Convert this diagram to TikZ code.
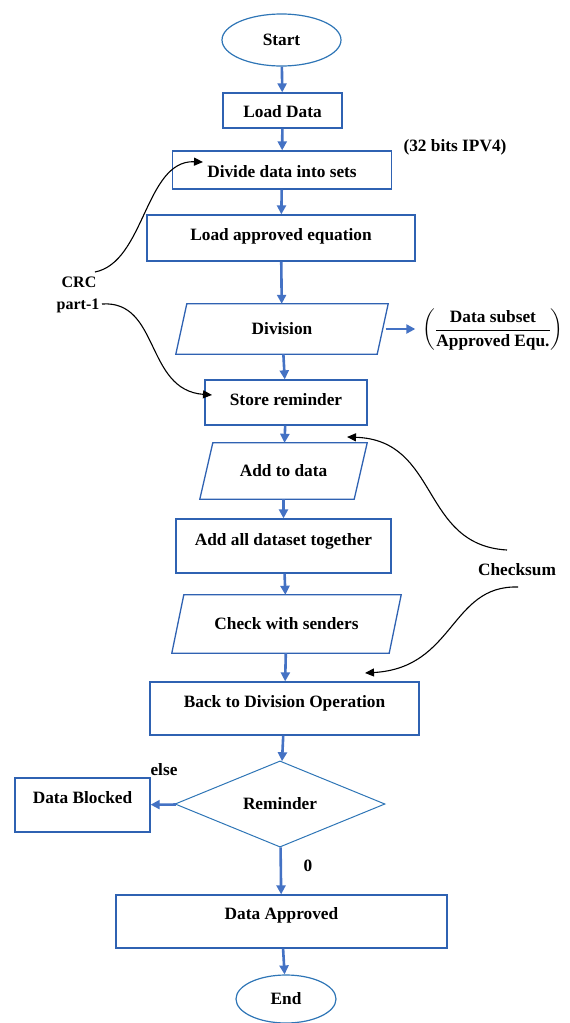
\documentclass[tikz,border=0pt]{standalone}
\usepackage{amsmath}
\usepackage{fontspec}
\setmainfont{Liberation Serif}
\usetikzlibrary{shapes.geometric,arrows.meta}
\definecolor{boxblue}{RGB}{47,98,178}
\definecolor{flowblue}{RGB}{68,114,196}
\definecolor{shapeblue}{RGB}{46,117,182}

\begin{document}
\begin{tikzpicture}[x=1pt,y=-1pt,
    every node/.style={font=\fontsize{17.3}{20}\selectfont\bfseries},
    proc/.style={draw=boxblue,line width=1.3pt,inner sep=0pt},
    io/.style={inner sep=0pt},
    iobox/.style={draw=boxblue,line width=1.3pt},
    term/.style={draw=shapeblue,line width=1.2pt,ellipse,inner sep=0pt},
    lbl/.style={inner sep=0pt},
    flow/.style={draw=flowblue,line width=2.6pt,-{Triangle[length=9pt,width=9pt]}},
    note/.style={line width=1.1pt,-{Triangle[length=9pt,width=8pt]}}]
  \useasboundingbox (0,0) rectangle (570,1023);

  % main column
  \node[term,minimum width=119pt,minimum height=52pt] (start) at (281.5,40) {Start};
  \node[proc,minimum width=119pt,text height=24pt,text depth=11pt] (load) at (282.5,110.5) {Load Data};
  \node[proc,minimum width=219pt,text height=26pt,text depth=12pt] (divide) at (282,170) {Divide data into sets};
  \node[proc,minimum width=268pt,text height=25pt,text depth=21pt] (equ) at (281,238) {Load approved equation};
  \node[io,minimum width=201pt,minimum height=50pt] (div) at (282,329) {Division};
  \node[proc,minimum width=162pt,text height=25pt,text depth=20pt] (store) at (286,402.5) {Store reminder};
  \node[io,minimum width=154pt,minimum height=56pt] (add) at (283.5,471) {Add to data};
  \node[proc,minimum width=215pt,text height=26pt,text depth=28pt] (addall) at (283.5,546) {Add all dataset together};
  \node[io,minimum width=217pt,minimum height=58pt] (check) at (286.5,624) {Check with senders};
  \node[proc,minimum width=269pt,text height=25pt,text depth=28pt] (back) at (284.5,708.5) {Back to Division Operation};
  \node[diamond,draw=shapeblue,line width=1pt,minimum width=210pt,minimum height=86pt,inner sep=0pt] (rem) at (280,804) {Reminder};
  \node[proc,minimum width=135pt,text height=25pt,text depth=29pt] (blocked) at (82.5,805) {Data Blocked};
  \node[proc,minimum width=331pt,text height=24pt,text depth=29pt] (approved) at (281.5,921.5) {Data Approved};
  \node[term,minimum width=100pt,minimum height=48pt] (end) at (286,999) {End};

  % slanted outlines of the input/output steps
  \foreach \n/\s in {div/5.5,add/6.5,check/6}
    \draw[iobox] ([xshift=\s]\n.north west) -- ([xshift=\s]\n.north east)
      -- ([xshift=-\s]\n.south east) -- ([xshift=-\s]\n.south west) -- cycle;

  % side texts
  \node[lbl] (ipv) at (455,147) {(32 bits IPV4)};
  \node[lbl] (frac) at (493,330) {$\left(\dfrac{\text{\bfseries Data subset}}{\text{\bfseries Approved Equ.}}\right)$};
  \node[lbl,font=\fontsize{16}{18}\selectfont\bfseries] (crc) at (79,282) {CRC};
  \node[lbl,font=\fontsize{16}{18}\selectfont\bfseries] (part) at (78,306) {part-1};
  \node[lbl] (chk) at (517,570) {Checksum};
  \node[lbl] (else) at (164,770) {else};
  \node[lbl] (zero) at (308,866) {0};

  % flow arrows
  \draw[flow] (start) -- (load);
  \draw[flow] (load) -- (divide);
  \draw[flow] (divide) -- (equ);
  \draw[flow] (equ) -- (div);
  \draw[flow] (div) -- (store);
  \draw[flow] (store) -- (add);
  \draw[flow] (add) -- (addall);
  \draw[flow] (addall) -- (check);
  \draw[flow] (check) -- (back);
  \draw[flow] (back) -- (rem);
  \draw[flow] (rem) -- (blocked);
  \draw[flow] (rem) -- (approved);
  \draw[flow] (approved) -- (end);
  \draw[flow,shorten <=3pt,shorten >=7pt] (div.east) -- (div.east -| frac.west);

  % annotation curves
  \coordinate (crcout) at (95,272);
  \coordinate (crcin) at (203,162);
  \coordinate (partout) at (102,304);
  \coordinate (partin) at (212,395);
  \coordinate (chkup) at (507,550);
  \coordinate (chkupin) at (347,437);
  \coordinate (chkdown) at (518,587);
  \coordinate (chkdownin) at (365,673);
  \draw[note] (crcout) .. controls (145,262) and (145,160) .. (crcin);
  \draw[note] (partout) .. controls (160,300) and (145,390) .. (partin);
  \draw[note] (chkup) .. controls (420,545) and (440,440) .. (chkupin);
  \draw[note] (chkdown) .. controls (450,585) and (455,668) .. (chkdownin);
\end{tikzpicture}
\end{document}
